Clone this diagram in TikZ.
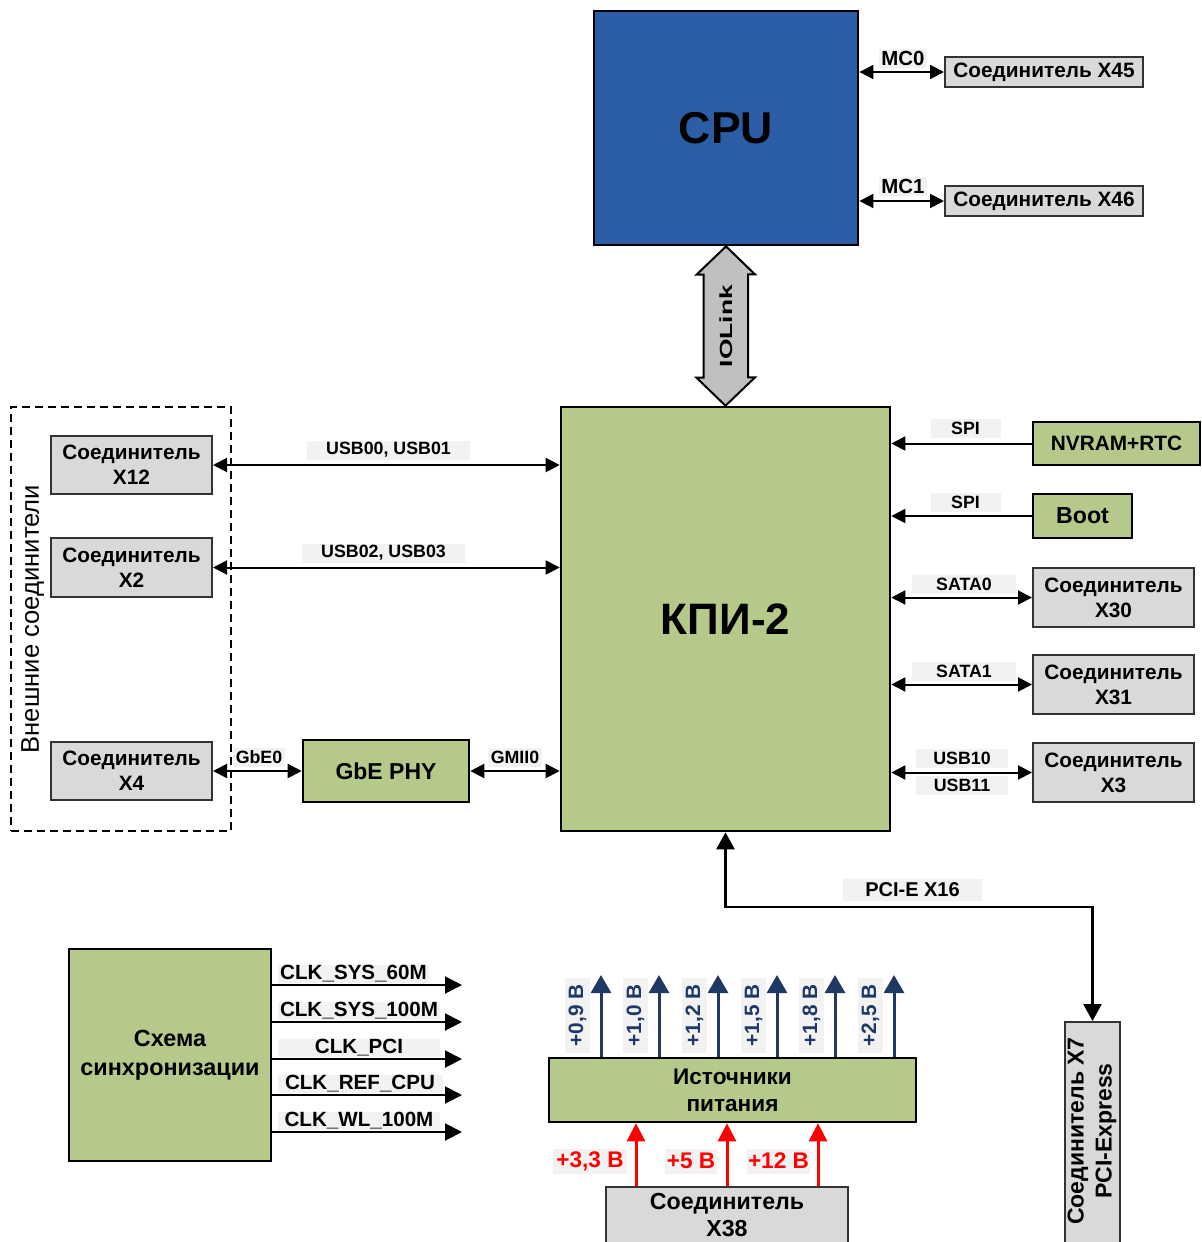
\documentclass[tikz,border=0pt]{standalone}
\usepackage{fontspec}
\setmainfont{Liberation Sans}
\usetikzlibrary{arrows.meta, calc}

\definecolor{cpuBlue}{HTML}{2B5EA6}
\definecolor{boardGreen}{HTML}{B5C98A}
\definecolor{connGrey}{HTML}{D9D9D9}
\definecolor{tagGrey}{HTML}{F2F2F2}
\definecolor{linkGrey}{HTML}{C0C0C0}
\definecolor{voltBlue}{HTML}{1F3864}
\definecolor{voltRed}{HTML}{FF0000}

\tikzset{
    % Blocks
    cpuBlock/.style={draw=black, line width=1.4pt, fill=cpuBlue, inner sep=0pt, font=\bfseries\fontsize{22.3}{26}\selectfont},
    greenBlock/.style={draw=black, line width=1.3pt, fill=boardGreen, inner sep=0pt, align=center},
    connBlock/.style={draw=black!80, line width=1pt, fill=connGrey, inner sep=0pt, align=center, font=\bfseries\fontsize{10.4}{12.5}\selectfont},
    groupFrame/.style={draw=black, line width=0.8pt, dash pattern=on 4pt off 2.5pt, inner sep=0pt},
    % Signal tags
    sigTag/.style={fill=tagGrey, inner sep=0pt, minimum height=9.5pt, font=\bfseries\fontsize{8.9}{10}\selectfont},
    clkTag/.style={fill=tagGrey, inner sep=0pt, minimum height=9pt, font=\bfseries\fontsize{10.3}{12}\selectfont},
    voltTag/.style={fill=tagGrey, inner sep=0pt, rotate=90, minimum width=37.5pt, minimum height=12.5pt, text=voltBlue, font=\bfseries\fontsize{10.4}{12}\selectfont},
    feedTag/.style={fill=tagGrey, inner sep=0pt, minimum height=12.5pt, text=voltRed, font=\bfseries\fontsize{11.3}{13}\selectfont},
    % Connectors
    busBoth/.style={{Triangle[length=7pt,width=7pt]}-{Triangle[length=7pt,width=7pt]}, line width=1pt},
    busIn/.style={-{Triangle[length=7pt,width=7pt]}, line width=1pt},
    pciBus/.style={{Triangle[length=8.5pt,width=9pt]}-{Triangle[length=8.5pt,width=9pt]}, line width=1.3pt},
    clkOut/.style={-{Triangle[length=8.5pt,width=8.5pt]}, line width=1pt},
    voltOut/.style={-{Triangle[length=9pt,width=10pt]}, line width=1.5pt, draw=voltBlue},
    voltIn/.style={-{Triangle[length=9pt,width=9pt]}, line width=1.5pt, draw=voltRed},
    ioLink/.style={draw=black, line width=1pt, fill=linkGrey, line join=miter}
}

\begin{document}
\begin{tikzpicture}[x=0.5pt, y=-0.5pt]
    \useasboundingbox (0,0) rectangle (1201,1242);
    \clip (0,0) rectangle (1201,1242);

    % CPU and memory channels
    \node[cpuBlock, minimum width=132pt, minimum height=117pt] (cpu) at (726,128) {CPU};
    \node[connBlock, minimum width=99pt, minimum height=15pt] (x45) at (1044,72) {Соединитель X45};
    \node[connBlock, minimum width=99pt, minimum height=15pt] (x46) at (1044,201) {Соединитель X46};
    \draw[busBoth] (cpu.east |- x45.west) -- (x45.west);
    \draw[busBoth] (cpu.east |- x46.west) -- (x46.west);
    \node[sigTag, minimum width=24pt, font=\bfseries\fontsize{10.2}{12}\selectfont] (mc0) at (903,58) {MC0};
    \node[sigTag, minimum width=24pt, font=\bfseries\fontsize{10.2}{12}\selectfont] (mc1) at (903,186) {MC1};

    % KPI-2 and IOLink
    \node[greenBlock, minimum width=164.5pt, minimum height=212pt, font=\bfseries\fontsize{22}{26}\selectfont] (kpi) at (725.5,619) {КПИ-2};
    \draw[ioLink] (cpu.south) -- ++(29,28) -- ++(-7,0) -- ++(0,103) -- ++(7,0) -- (kpi.north)
        -- ++(-29,-28) -- ++(7,0) -- ++(0,-103) -- ++(-7,0) -- cycle;
    \node[rotate=90, font=\bfseries\fontsize{8.8}{10}\selectfont] (ioText) at ($(cpu.south)!0.5!(kpi.north)$) {\scalebox{1.5}[1]{IOLink}};

    % External connectors
    \node[groupFrame, minimum width=110pt, minimum height=212pt] (ext) at (121,619) {};
    \node[rotate=90, anchor=base, font=\fontsize{12.8}{15}\selectfont] (extText) at (39,619) {Внешние соединители};
    \node[connBlock, minimum width=80.5pt, minimum height=29pt] (x12) at (131.5,465) {Соединитель\\X12};
    \node[connBlock, minimum width=80.5pt, minimum height=29.5pt] (x2) at (131.5,567.5) {Соединитель\\X2};
    \node[connBlock, minimum width=80.5pt, minimum height=29pt] (x4) at (131.5,771) {Соединитель\\X4};
    \node[greenBlock, minimum width=83pt, minimum height=31pt, font=\bfseries\fontsize{11.5}{14}\selectfont] (phy) at (386,771) {GbE PHY};
    \draw[busBoth] (x12.east) -- (kpi.west |- x12.east);
    \draw[busBoth] (x2.east) -- (kpi.west |- x2.east);
    \draw[busBoth] (x4.east) -- (phy.west);
    \draw[busBoth] (phy.east) -- (kpi.west |- phy.east);
    \node[sigTag, minimum width=81.5pt] (usbA) at (388.5,450) {USB00, USB01};
    \node[sigTag, minimum width=81.5pt] (usbB) at (383.5,553) {USB02, USB03};
    \node[sigTag, minimum width=26pt] (gbe) at (259,757) {GbE0};
    \node[sigTag, minimum width=27pt] (gmii) at (515,757) {GMII0};

    % Right side periphery
    \node[greenBlock, minimum width=83.5pt, minimum height=21.5pt, font=\bfseries\fontsize{10.4}{12}\selectfont] (nvram) at (1116.5,443.5) {NVRAM+RTC};
    \node[greenBlock, minimum width=49.5pt, minimum height=22pt, font=\bfseries\fontsize{11.6}{14}\selectfont] (boot) at (1082.5,516) {Boot};
    \node[connBlock, minimum width=80.5pt, minimum height=29.5pt] (x30) at (1113.5,597.5) {Соединитель\\X30};
    \node[connBlock, minimum width=80.5pt, minimum height=29.5pt] (x31) at (1113.5,684.5) {Соединитель\\X31};
    \node[connBlock, minimum width=80.5pt, minimum height=29.5pt] (x3) at (1113.5,772.5) {Соединитель\\X3};
    \draw[busIn] (nvram.west) -- (kpi.east |- nvram.west);
    \draw[busIn] (boot.west) -- (kpi.east |- boot.west);
    \draw[busBoth] (x30.west) -- (kpi.east |- x30.west);
    \draw[busBoth] (x31.west) -- (kpi.east |- x31.west);
    \draw[busBoth] (x3.west) -- (kpi.east |- x3.west);
    \node[sigTag, minimum width=35pt] (spiA) at (965.5,428) {SPI};
    \node[sigTag, minimum width=35pt] (spiB) at (965.5,502) {SPI};
    \node[sigTag, minimum width=52pt] (sata0) at (964,584.5) {SATA0};
    \node[sigTag, minimum width=52pt] (sata1) at (964,671) {SATA1};
    \node[sigTag, minimum width=46pt] (usb10) at (962,758.5) {USB10};
    \node[sigTag, minimum width=46pt] (usb11) at (962,785.5) {USB11};

    % PCI-Express
    \node[connBlock, minimum width=27.5pt, minimum height=111pt] (x7) at (1092.5,1133) {};
    \node[rotate=90, align=center, font=\bfseries\fontsize{11.5}{14}\selectfont] (x7Text) at (1092,1131) {Соединитель X7\\PCI-Express};
    \coordinate (pciBend) at (1092.5,907);
    \draw[pciBus] (kpi.south) |- (pciBend) -- (x7.north);
    \node[sigTag, minimum width=69.5pt, minimum height=11pt, font=\bfseries\fontsize{10}{12}\selectfont] (pciTag) at (912.5,890) {PCI-E X16};

    % Clock tree
    \node[greenBlock, minimum width=101pt, minimum height=106pt, font=\bfseries\fontsize{11.7}{14.5}\selectfont] (clk) at (170,1055) {Схема\\синхронизации};
    \foreach \cy/\cx/\cw/\ct in {985/353.5/75.5/CLK\_SYS\_60M, 1022/359/81/CLK\_SYS\_100M,
        1059/359/81/CLK\_PCI, 1095/360/82.5/CLK\_REF\_CPU, 1132/359/81/CLK\_WL\_100M} {
        \coordinate (clkEnd) at (462,\cy);
        \draw[clkOut] (clk.east |- clkEnd) -- (clkEnd);
        \node[clkTag, minimum width=\cw pt] (clkTag\cy) at (\cx,\cy-11) {\ct};
    }

    % Power supplies
    \node[greenBlock, minimum width=183.5pt, minimum height=32pt, font=\bfseries\fontsize{11.3}{13.5}\selectfont] (pwr) at (732.5,1090) {Источники\\питания};
    \node[connBlock, minimum width=121pt, minimum height=28.5pt, font=\bfseries\fontsize{11.6}{13.5}\selectfont] (x38) at (727,1215.5) {Соединитель\\X38};
    \foreach \vx/\vt in {601/0{,}9, 659/1{,}0, 718/1{,}2, 777/1{,}5, 835/1{,}8, 894/2{,}5} {
        \coordinate (vTip) at (\vx,975);
        \draw[voltOut] (pwr.north -| vTip) -- (vTip);
        \node[voltTag] (vTag\vx) at (\vx-23.5,1015.5) {+\vt~В};
    }
    \foreach \rx/\rt/\lx/\lw in {636/3{,}3/590/37, 727/5/691/26, 818/12/778.5/31.5} {
        \coordinate (rFoot) at (\rx,1187);
        \draw[voltIn] (x38.north -| rFoot) -- (pwr.south -| rFoot);
        \node[feedTag, minimum width=\lw pt] (rTag\rx) at (\lx,1161) {+\rt~В};
    }
\end{tikzpicture}
\end{document}
